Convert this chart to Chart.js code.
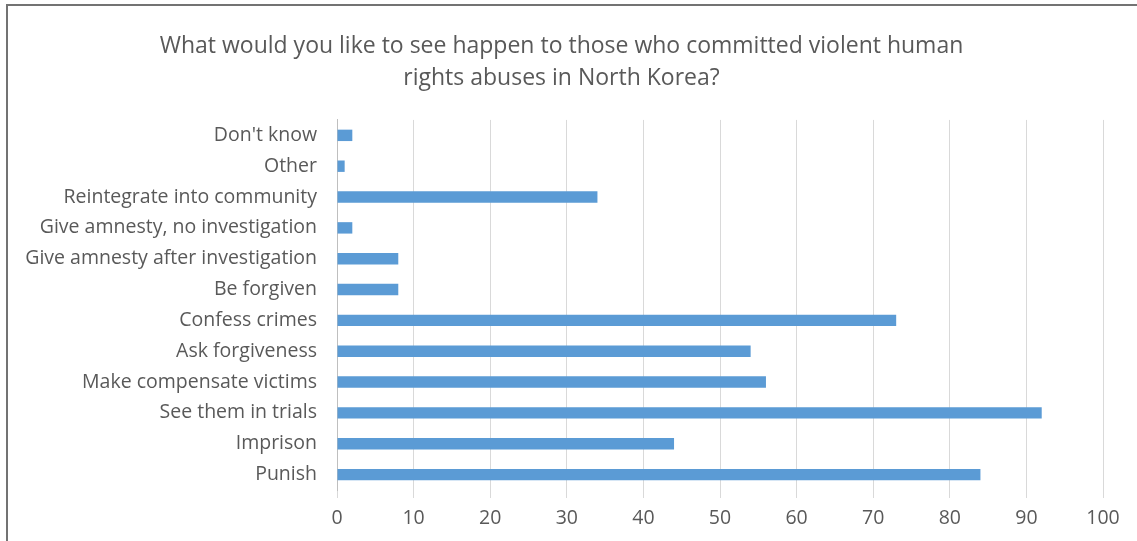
<!DOCTYPE html>
<html>
<head>
<meta charset="utf-8">
<script src="https://cdn.jsdelivr.net/npm/chart.js@4"></script>
<style>
  body { margin: 0; background: #fff; overflow: hidden; }
  #wrap { position: relative; width: 1137px; height: 541px; }
  #frame {
    position: absolute; left: 6px; top: 4px; width: 1200px; height: 600px;
    border-top: 2px solid #737373; border-left: 2px solid #737373;
    pointer-events: none;
  }
</style>
</head>
<body>
<div id="wrap">
  <canvas id="bars" width="1137" height="541"></canvas>
  <div id="frame"></div>
</div>
<script>
// answers, top to bottom as in the picture
let answers = ["Don't know", 'Other', 'Reintegrate into community', 'Give amnesty, no investigation',
  'Give amnesty after investigation', 'Be forgiven', 'Confess crimes', 'Ask forgiveness',
  'Make compensate victims', 'See them in trials', 'Imprison', 'Punish'];
let counts = [2, 1, 34, 2, 8, 8, 73, 54, 56, 92, 44, 84];
let xTicks = [0, 10, 20, 30, 40, 50, 60, 70, 80, 90, 100];

let titleLines = ['What would you like to see happen to those who committed violent human',
  'rights abuses in North Korea?'];

let grey = '#595959';
let font = "'Open Sans', sans-serif";

let ctx = document.querySelector('#bars');

let bars = new Chart(ctx, {
  type: 'bar',
  data: {
    labels: answers,
    datasets: [{
      data: counts,
      backgroundColor: '#5b9bd5',
      borderWidth: 0,
      barPercentage: 0.37,
      categoryPercentage: 1
    }]
  },
  options: {
    indexAxis: 'y',
    responsive: false,
    animation: false,
    // left padding nudges the title towards the middle
    layout: { padding: { left: 20, right: 34, top: 0, bottom: 0 } },
    plugins: {
      legend: { display: false },
      tooltip: { enabled: false },
      title: {
        display: true,
        text: titleLines,
        color: grey,
        font: { family: font, size: 23, weight: 'normal', lineHeight: 1.39 },
        padding: { top: 30, bottom: 26 }
      }
    },
    scales: {
      x: {
        min: 0,
        max: 100,
        afterBuildTicks: function (axis) {
          axis.ticks = xTicks.map(v => ({ value: v }));
        },
        afterFit: function (axis) { axis.height = 51; },
        grid: { color: '#d9d9d9', tickColor: '#d9d9d9', tickLength: 8, drawTicks: true },
        border: { display: false },
        ticks: { color: grey, font: { family: font, size: 19.5 }, padding: 9, maxRotation: 0 }
      },
      y: {
        afterFit: function (axis) { axis.width = 317; },
        grid: { display: false, drawTicks: false },
        border: { display: true, color: '#bfbfbf', width: 1 },
        ticks: { color: grey, font: { family: font, size: 19.5 }, padding: 20 }
      }
    }
  }
});
</script>
</body>
</html>
